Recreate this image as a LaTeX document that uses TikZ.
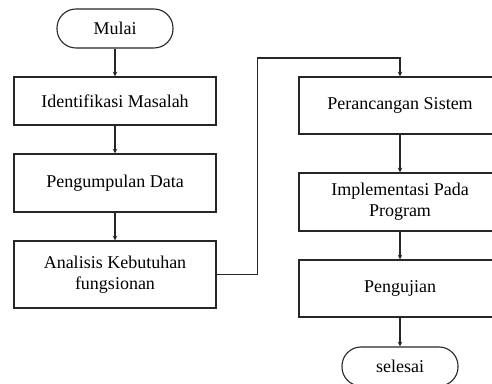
\documentclass[tikz,border=0pt]{standalone}
\usepackage{fontspec}
\setmainfont{Liberation Serif}
\begin{document}
\begin{tikzpicture}[->, >=stealth, x=1pt, y=1pt, line width=1.1pt, draw=black!85, node distance=80pt,
	box node/.style={rectangle, draw, align=center, minimum width=202pt, font=\fontsize{18}{21}\selectfont},
	end node/.style={rectangle, rounded corners=19pt, draw, minimum width=116pt, minimum height=39pt, font=\fontsize{18}{21}\selectfont}]
	\clip (0,0) rectangle (492,383);
	\node[end node] (mulai) at (115,354.5) {Mulai};
	\node[box node, minimum height=48pt] (masalah) [below of=mulai, node distance=72.5pt] {Identifikasi Masalah};
	\node[box node, minimum height=58pt] (data) [below of=masalah, node distance=82pt] {Pengumpulan Data};
	\node[box node, minimum height=67pt] (analisis) [below of=data, node distance=91.5pt] {Analisis Kebutuhan\\fungsionan};
	\node[box node, minimum height=57pt] (rancang) at (400,277.5) {Perancangan Sistem};
	\node[box node, minimum height=58pt] (implementasi) [below of=rancang, node distance=96.5pt] {Implementasi Pada\\Program};
	\node[box node, minimum height=57pt] (uji) [below of=implementasi, node distance=86.5pt] {Pengujian};
	\node[end node] (selesai) [below of=uji, node distance=78pt] {selesai};
	\coordinate (belok) at (257.5,325);
	\path
		(mulai) edge (masalah)
		(masalah) edge (data)
		(data) edge (analisis)
		(rancang) edge (implementasi)
		(implementasi) edge (uji)
		(uji) edge (selesai);
	\draw (analisis.east) -| (belok) -| (rancang.north);
\end{tikzpicture}
\end{document}
